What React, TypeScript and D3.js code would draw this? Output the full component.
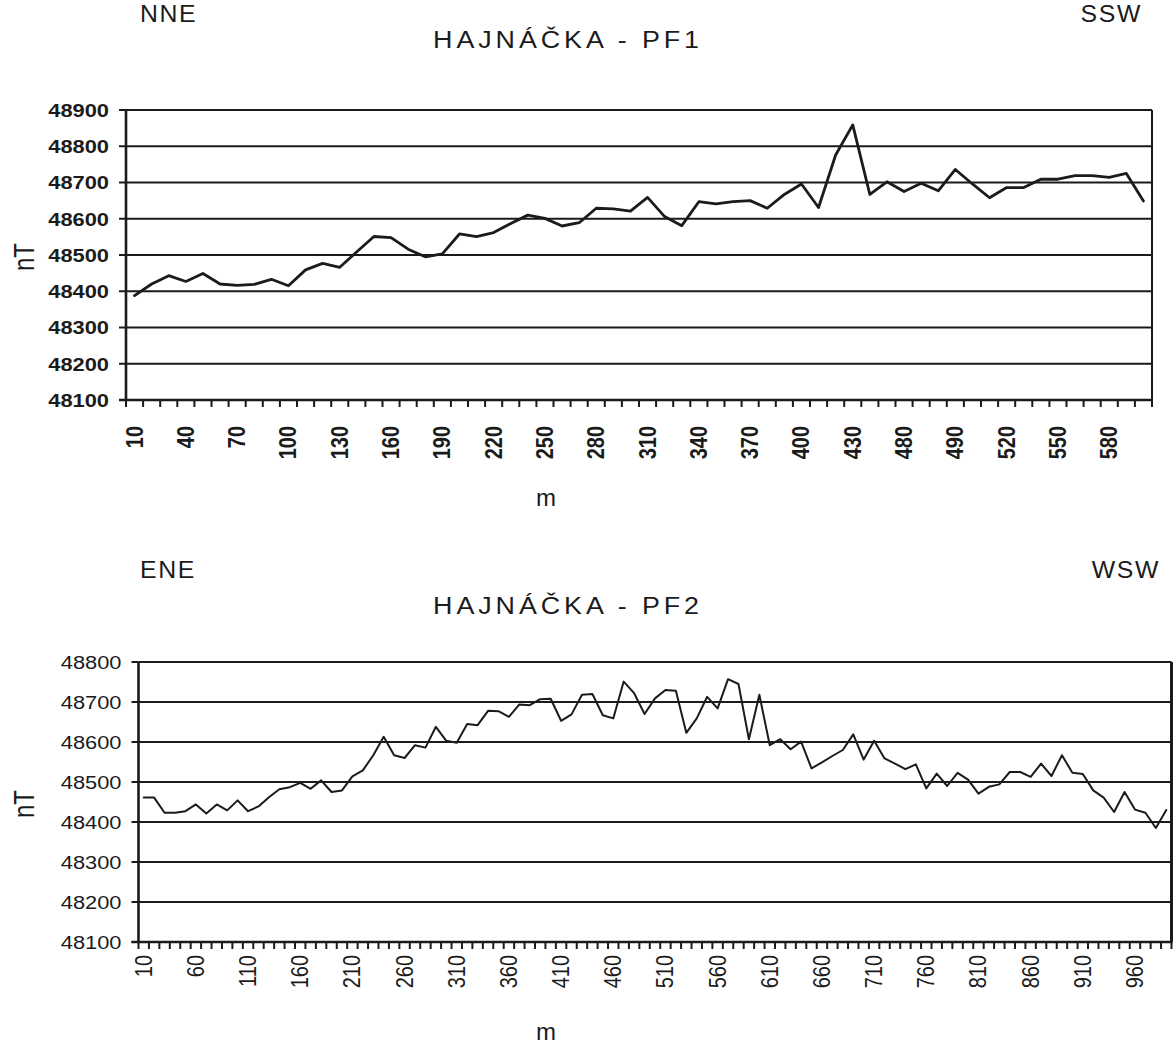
import React from "react";
import * as d3 from "d3";

// PF1 profile, distance along profile (m) and total field (nT)
const pf1Distances = [
  "10", "20", "30", "40", "50", "60", "70", "80", "90", "100",
  "110", "120", "130", "140", "150", "160", "170", "180", "190", "200",
  "210", "220", "230", "240", "250", "260", "270", "280", "290", "300",
  "310", "320", "330", "340", "350", "360", "370", "380", "390", "400",
  "410", "420", "430", "440", "450", "480", "470", "480", "490", "500",
  "510", "520", "530", "540", "550", "560", "570", "580", "590", "600",
];
const pf1Values = [
  48388, 48420, 48443, 48427, 48449, 48420, 48416, 48419, 48433, 48415,
  48459, 48477, 48466, 48509, 48551, 48548, 48516, 48495, 48503, 48558,
  48551, 48562, 48587, 48610, 48601, 48580, 48589, 48629, 48627, 48621,
  48659, 48606, 48581, 48647, 48641, 48647, 48650, 48629, 48667, 48696,
  48631, 48776, 48859, 48667, 48702, 48675, 48698, 48677, 48736, 48696,
  48658, 48686, 48686, 48709, 48709, 48719, 48719, 48714, 48725, 48649,
];
const pf1Ticks = [48100, 48200, 48300, 48400, 48500, 48600, 48700, 48800, 48900];

// PF2 profile
const pf2Distances = [
  "10", "20", "30", "40", "50", "60", "70", "80", "90", "100",
  "110", "120", "130", "140", "150", "160", "170", "180", "190", "200",
  "210", "220", "230", "240", "250", "260", "270", "280", "290", "300",
  "310", "320", "330", "340", "350", "360", "370", "380", "390", "400",
  "410", "420", "430", "440", "450", "460", "470", "480", "490", "500",
  "510", "520", "530", "540", "550", "560", "570", "580", "590", "600",
  "610", "620", "630", "640", "650", "660", "670", "680", "690", "700",
  "710", "720", "730", "740", "750", "760", "770", "780", "790", "800",
  "810", "820", "830", "840", "850", "860", "870", "880", "890", "900",
  "910", "920", "930", "940", "950", "960", "970", "980", "990",
];
const pf2Values = [
  48461, 48461, 48423, 48423, 48427, 48444, 48421, 48444, 48429, 48454,
  48427, 48439, 48462, 48482, 48487, 48498, 48483, 48504, 48475, 48479,
  48514, 48529, 48567, 48613, 48567, 48560, 48592, 48586, 48638, 48603,
  48598, 48645, 48642, 48678, 48677, 48663, 48694, 48692, 48707, 48708,
  48653, 48669, 48718, 48720, 48667, 48659, 48751, 48722, 48670, 48709,
  48730, 48728, 48623, 48659, 48713, 48684, 48757, 48745, 48607, 48718,
  48592, 48607, 48582, 48601, 48534, 48549, 48565, 48580, 48619, 48556,
  48603, 48559, 48546, 48532, 48544, 48484, 48521, 48490, 48523, 48506,
  48471, 48488, 48494, 48525, 48525, 48513, 48546, 48515, 48567, 48523,
  48520, 48479, 48461, 48425, 48475, 48431, 48423, 48385, 48430,
];
const pf2Ticks = [48100, 48200, 48300, 48400, 48500, 48600, 48700, 48800];

const FONT = "'Liberation Sans', Arial, Helvetica, sans-serif";
const INK = "#1b1b1b";
// lettering in the scan is stretched sideways
const STRETCH = 1.15;

function Txt({ x, y, size, weight = "normal", anchor = "start", sx = STRETCH, rotate = false, spacing = 0, children }) {
  return (
    <text
      transform={`translate(${x},${y}) scale(${sx},1)${rotate ? " rotate(-90)" : ""}`}
      fontFamily={FONT}
      fontSize={size}
      fontWeight={weight}
      textAnchor={anchor}
      dominantBaseline="central"
      letterSpacing={spacing}
      fill={INK}
    >
      {children}
    </text>
  );
}

function Profile({ cfg }) {
  const { title, leftDir, rightDir, cats, values, ticks, frame, every, bold, lineW, rightW } = cfg;
  const n = cats.length;
  const x = d3.scaleBand().domain(d3.range(n)).range([frame.x0, frame.x1]);
  const y = d3.scaleLinear().domain([ticks[0], ticks[ticks.length - 1]]).range([frame.y1, frame.y0]);
  const line = d3
    .line()
    .x((d, i) => x(i) + x.bandwidth() / 2)
    .y((d) => y(d));
  const bounds = d3.range(n + 1).map((i) => frame.x0 + i * x.step());
  const weight = bold ? "bold" : "normal";

  return (
    <g>
      <Txt x={140} y={cfg.dirY} size={23} sx={1.08} spacing={1.5}>{leftDir}</Txt>
      <Txt x={cfg.rightDirX} y={cfg.dirY} size={23} sx={1.08} spacing={1.5} anchor="end">{rightDir}</Txt>
      <Txt x={568} y={cfg.titleY} size={24} sx={1.12} spacing={3.5} anchor="middle">{title}</Txt>

      {ticks.map((t) => (
        <line key={"g" + t} x1={frame.x0} x2={frame.x1} y1={y(t)} y2={y(t)} stroke={INK} strokeWidth={1.8} />
      ))}
      {ticks.map((t) => (
        <line key={"yt" + t} x1={frame.x0 - 7} x2={frame.x0} y1={y(t)} y2={y(t)} stroke={INK} strokeWidth={2} />
      ))}
      {ticks.map((t) => (
        <Txt key={"yl" + t} x={frame.x0 - 17} y={y(t)} size={19} weight={weight} anchor="end">{t}</Txt>
      ))}

      <line x1={frame.x0} x2={frame.x0} y1={frame.y0} y2={frame.y1 + 1} stroke={INK} strokeWidth={2.6} />
      <line x1={frame.x1} x2={frame.x1} y1={frame.y0} y2={frame.y1} stroke={INK} strokeWidth={rightW} />
      <line x1={frame.x0 - 7} x2={frame.x1 + 1} y1={frame.y1} y2={frame.y1} stroke={INK} strokeWidth={2.6} />
      {bounds.map((b, i) => (
        <line key={"xt" + i} x1={b} x2={b} y1={frame.y1} y2={frame.y1 + 7} stroke={INK} strokeWidth={2} />
      ))}
      {cats.map((c, i) =>
        i % every === 0 ? (
          <Txt key={"xl" + i} x={x(i) + x.bandwidth() / 2} y={cfg.xLabelY} size={20} weight={weight} anchor="end" rotate>
            {c}
          </Txt>
        ) : null
      )}

      <path d={line(values)} fill="none" stroke={INK} strokeWidth={lineW} strokeLinejoin="round" strokeLinecap="round" />

      <Txt x={24} y={(frame.y0 + frame.y1) / 2 + 2} size={24} sx={1.2} anchor="middle" rotate>nT</Txt>
      <Txt x={546} y={cfg.mY} size={24} sx={1.0} anchor="middle">m</Txt>
    </g>
  );
}

const pf1 = {
  title: "HAJNÁČKA - PF1",
  leftDir: "NNE",
  rightDir: "SSW",
  rightDirX: 1142,
  dirY: 14,
  titleY: 40,
  cats: pf1Distances,
  values: pf1Values,
  ticks: pf1Ticks,
  frame: { x0: 126, x1: 1152, y0: 110, y1: 400 },
  every: 3,
  bold: true,
  lineW: 2.8,
  rightW: 2,
  xLabelY: 426,
  mY: 497,
};

const pf2 = {
  title: "HAJNÁČKA - PF2",
  leftDir: "ENE",
  rightDir: "WSW",
  rightDirX: 1160,
  dirY: 570,
  titleY: 606,
  cats: pf2Distances,
  values: pf2Values,
  ticks: pf2Ticks,
  frame: { x0: 138.5, x1: 1171.5, y0: 662, y1: 942 },
  every: 5,
  bold: false,
  lineW: 2,
  rightW: 3,
  xLabelY: 955,
  mY: 1031,
};

export default function App() {
  return (
    <div>
      <style>{"body{margin:0;background:#fff}"}</style>
      <svg width={1176} height={1048} style={{ display: "block", background: "#fff" }}>
        <Profile cfg={pf1} />
        <Profile cfg={pf2} />
      </svg>
    </div>
  );
}
